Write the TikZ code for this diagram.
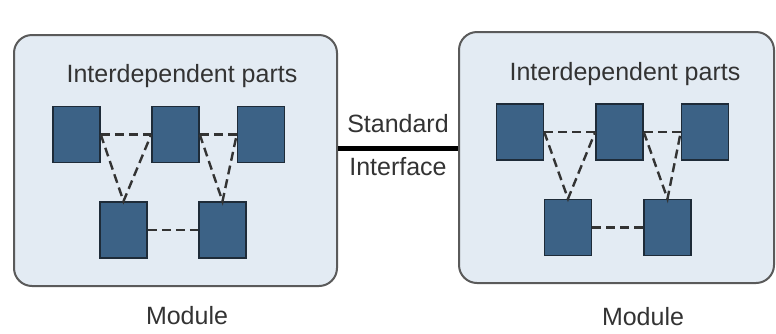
\documentclass[tikz,border=0pt]{standalone}
\usepackage{fontspec}
\setmainfont{Liberation Sans}
\usetikzlibrary{calc}
\definecolor{modfill}{HTML}{E3EBF3}
\definecolor{modline}{HTML}{5A5A5A}
\definecolor{partfill}{HTML}{3C6286}
\definecolor{partline}{HTML}{1E2B38}
\definecolor{txt}{HTML}{333333}
\tikzset{module/.style={draw=modline, fill=modfill, line width=2pt, rounded corners=18pt, inner sep=0pt},
         part/.style={draw=partline, fill=partfill, line width=1.5pt, minimum width=47pt, minimum height=56pt, inner sep=0pt},
         link/.style={draw=txt, line width=2.4pt, dash pattern=on 9pt off 5pt},
         iface/.style={black, line width=5pt},
         every node/.style={text=txt, font=\fontsize{25}{29}\selectfont}}

\begin{document}
\begin{tikzpicture}[x=1pt,y=-1pt]
  \fill[white] (0,0) rectangle (776,333);
  \useasboundingbox (0,0) rectangle (776,333);
  \begin{scope}[shift={(14,35)}]
   \node[module, minimum width=323pt, minimum height=251pt] (lbox) at (161.5,125.5) {};
   \node (ltitle) at (168,41) {Interdependent parts};
   \node[part] (a) at ( 62.5, 99.5) {};
   \node[part] (b) at (161.5, 99.5) {};
   \node[part] (c) at (247.0, 99.5) {};
   \node[part] (d) at (109.5,195.0) {};
   \node[part] (e) at (208.5,195.0) {};
   \draw[link] (a.east) -- (b.west);
   \draw[link] (b.east) -- (c.west);
   \draw[link] (d.east) -- (e.west);
   \draw[link] (a.east) -- (d.north) -- (b.west);
   \draw[link] (b.east) -- (e.north) -- (c.west);
   \node (lname) at (173,281) {Module};
  \end{scope}
  \begin{scope}[shift={(459,32)}]
   \node[module, minimum width=315pt, minimum height=251pt] (rbox) at (157.5,125.5) {};
   \node (rtitle) at (166,42) {Interdependent parts};
   \node[part] (a) at ( 61.0,100.0) {};
   \node[part] (b) at (160.5,100.0) {};
   \node[part] (c) at (246.0,100.0) {};
   \node[part] (d) at (109.0,195.5) {};
   \node[part] (e) at (208.5,195.5) {};
   \draw[link] (a.east) -- (b.west);
   \draw[link] (b.east) -- (c.west);
   \draw[link] (d.east) -- (e.west);
   \draw[link] (a.east) -- (d.north) -- (b.west);
   \draw[link] (b.east) -- (e.north) -- (c.west);
   \node (rname) at (184,285) {Module};
  \end{scope}
  % standard interface between the two modules
  \draw[iface] ([yshift=12pt]lbox.east) -- ([yshift=12pt]lbox.east -| rbox.west)
    node[midway, above=10pt] {Standard}
    node[midway, below=3pt] {Interface};
\end{tikzpicture}
\end{document}
